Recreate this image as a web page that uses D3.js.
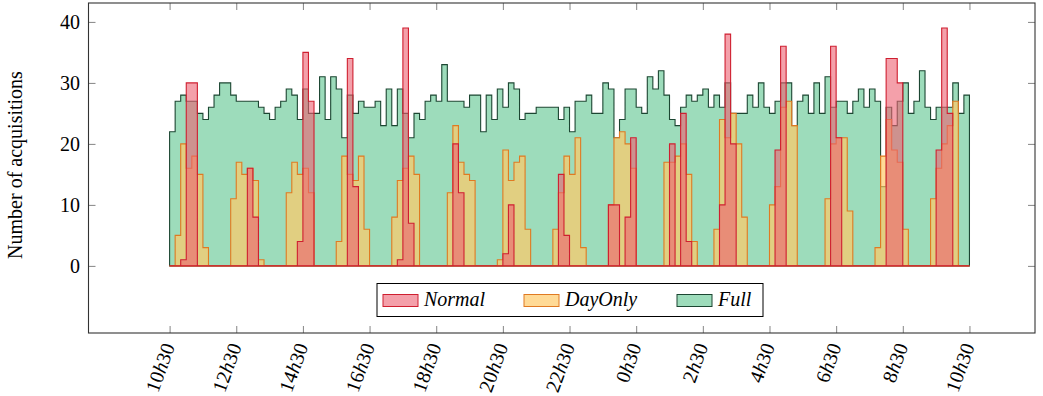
<!DOCTYPE html>
<html>
<head>
<meta charset="utf-8">
<script src="https://cdn.jsdelivr.net/npm/d3@7"></script>
<style>
  html, body { margin: 0; padding: 0; background: #fff; }
  svg { display: block; }
  text { font-family: "Liberation Serif", "Times New Roman", serif; fill: #000; }
</style>
</head>
<body>
<svg id="chart" width="1043" height="396"></svg>
<script>
// Acquisitions per 10-minute slot, starting at 10h30 and covering 24 hours
const binMinutes = 10;

const normalCounts = [
  0, 0, 1, 30, 30, 0, 0, 0, 0, 0,
  0, 0, 0, 0, 16, 8, 0, 0, 0, 0,
  0, 0, 0, 4, 35, 27, 0, 0, 0, 0,
  0, 0, 34, 13, 0, 0, 0, 0, 0, 0,
  0, 1, 39, 7, 0, 0, 0, 0, 0, 0,
  0, 20, 12, 0, 0, 0, 0, 0, 0, 0,
  2, 10, 0, 0, 0, 0, 0, 0, 0, 0,
  15, 5, 0, 0, 0, 0, 0, 0, 0, 10,
  10, 0, 8, 21, 0, 0, 0, 0, 0, 0,
  20, 0, 25, 4, 0, 0, 0, 0, 0, 10,
  38, 20, 0, 0, 0, 0, 0, 0, 0, 19,
  36, 0, 0, 0, 0, 0, 0, 0, 0, 36,
  21, 0, 0, 0, 0, 0, 0, 0, 0, 34,
  34, 30, 0, 0, 0, 0, 0, 0, 19, 39,
  25, 0, 0, 0
];

const dayOnlyCounts = [
  0, 5, 20, 16, 18, 15, 3, 0, 0, 0,
  0, 11, 17, 15, 16, 14, 1, 0, 0, 0,
  0, 12, 17, 15, 16, 12, 0, 0, 0, 0,
  4, 18, 15, 14, 18, 6, 0, 0, 0, 0,
  8, 14, 16, 18, 15, 0, 0, 0, 0, 0,
  12, 23, 17, 15, 14, 0, 0, 0, 0, 1,
  19, 14, 17, 18, 6, 0, 0, 0, 0, 6,
  12, 18, 15, 21, 3, 0, 0, 0, 0, 10,
  21, 22, 20, 16, 0, 0, 0, 0, 0, 17,
  17, 18, 20, 15, 4, 0, 0, 0, 6, 24,
  21, 25, 20, 8, 0, 0, 0, 0, 10, 13,
  26, 27, 23, 0, 0, 0, 0, 0, 11, 20,
  21, 21, 9, 0, 0, 0, 0, 3, 18, 24,
  19, 17, 6, 0, 0, 0, 0, 11, 16, 20,
  23, 27, 0, 0
];

const fullCounts = [
  22, 27, 28, 27, 27, 25, 24, 26, 28, 30,
  30, 28, 27, 27, 27, 27, 26, 25, 24, 26,
  27, 29, 28, 24, 29, 25, 25, 31, 24, 31,
  29, 21, 28, 25, 27, 26, 26, 27, 23, 29,
  23, 29, 25, 21, 25, 24, 27, 28, 27, 33,
  27, 27, 27, 26, 28, 28, 22, 28, 24, 29,
  26, 30, 29, 24, 25, 25, 26, 26, 26, 26,
  24, 26, 22, 27, 27, 28, 25, 25, 30, 29,
  21, 24, 29, 29, 26, 25, 31, 29, 32, 28,
  24, 23, 26, 28, 27, 28, 29, 26, 28, 26,
  30, 25, 25, 25, 28, 26, 30, 26, 25, 27,
  30, 30, 23, 27, 28, 25, 30, 25, 31, 26,
  27, 27, 25, 27, 29, 26, 29, 27, 13, 26,
  23, 27, 30, 25, 27, 32, 26, 24, 26, 26,
  26, 30, 25, 28
];

const seriesNames = ["Normal", "DayOnly", "Full"];

// Tick positions in minutes after 10h30, and their labels
const xTickMinutes = [0, 120, 240, 360, 480, 600, 720, 840, 960, 1080, 1200, 1320, 1440];
const xTickLabels = ["10h30", "12h30", "14h30", "16h30", "18h30", "20h30", "22h30",
                     "0h30", "2h30", "4h30", "6h30", "8h30", "10h30"];
const yTickValues = [0, 10, 20, 30, 40];

const styles = {
  Normal:  { fill: "#ed6171", fillOpacity: 0.6,  stroke: "#cf1f30" },
  DayOnly: { fill: "#ffc967", fillOpacity: 0.69, stroke: "#e07a22" },
  Full:    { fill: "#9ddcbb", fillOpacity: 1,    stroke: "#1c4632" }
};

const svg = d3.select("#chart");
const plot = { left: 88.5, right: 1035, top: 3, bottom: 333 };

const x = d3.scaleLinear().domain([-146, 1558]).range([plot.left, plot.right]);
const y = d3.scaleLinear().domain([-11, 43.1]).range([plot.bottom, plot.top]);

function stepPoints(counts) {
  const pts = counts.map((v, i) => ({ t: i * binMinutes, v }));
  pts.push({ t: counts.length * binMinutes, v: counts[counts.length - 1] });
  return pts;
}

const area = d3.area()
  .x(d => x(d.t))
  .y0(y(0))
  .y1(d => y(d.v))
  .curve(d3.curveStepAfter);

const layers = [
  ["Full", fullCounts],
  ["DayOnly", dayOnlyCounts],
  ["Normal", normalCounts]
];

const g = svg.append("g");
layers.forEach(([name, counts]) => {
  const s = styles[name];
  g.append("path")
    .datum(stepPoints(counts))
    .attr("d", area)
    .attr("fill", s.fill)
    .attr("fill-opacity", s.fillOpacity)
    .attr("stroke", s.stroke)
    .attr("stroke-width", 1.1)
    .attr("stroke-linejoin", "miter");
});

// Axis frame with inward ticks on all four sides
const tickLen = 7;
const axes = svg.append("g");
const xBottom = d3.axisBottom(x).tickValues(xTickMinutes).tickSize(-tickLen).tickFormat("");
const xTop = d3.axisTop(x).tickValues(xTickMinutes).tickSize(-tickLen).tickFormat("");
const yLeft = d3.axisLeft(y).tickValues(yTickValues).tickSize(-tickLen).tickFormat("");
const yRight = d3.axisRight(y).tickValues(yTickValues).tickSize(-tickLen).tickFormat("");

axes.append("g").attr("transform", `translate(0,${plot.bottom})`).call(xBottom);
axes.append("g").attr("transform", `translate(0,${plot.top})`).call(xTop);
axes.append("g").attr("transform", `translate(${plot.left},0)`).call(yLeft);
axes.append("g").attr("transform", `translate(${plot.right},0)`).call(yRight);
axes.selectAll(".domain").remove();
axes.selectAll(".tick line").attr("stroke", "#666").attr("stroke-width", 0.8);

svg.append("rect")
  .attr("x", plot.left).attr("y", plot.top)
  .attr("width", plot.right - plot.left).attr("height", plot.bottom - plot.top)
  .attr("fill", "none").attr("stroke", "#333").attr("stroke-width", 1.1);

// Y tick labels
svg.append("g").selectAll("text")
  .data(yTickValues)
  .join("text")
  .attr("x", 80)
  .attr("y", d => y(d))
  .attr("dy", "0.35em")
  .attr("text-anchor", "end")
  .attr("font-size", 20)
  .text(d => d);

// X tick labels, rotated, with the hour marker in italics
const xl = svg.append("g").selectAll("text")
  .data(xTickMinutes)
  .join("text")
  .attr("text-anchor", "end")
  .attr("font-size", 20)
  .attr("dy", "0.35em")
  .attr("transform", d => `translate(${x(d) - 1},${plot.bottom + 11}) rotate(-70)`);
xl.each(function(d, i) {
  const parts = xTickLabels[i].split("h");
  const t = d3.select(this);
  t.append("tspan").text(parts[0]);
  t.append("tspan").attr("font-style", "italic").text("h");
  t.append("tspan").text(parts[1]);
});

// Y axis title
svg.append("text")
  .attr("transform", `translate(22,165) rotate(-90)`)
  .attr("text-anchor", "middle")
  .attr("font-size", 20)
  .text("Number of acquisitions");

// Legend
const legend = svg.append("g");
legend.append("rect")
  .attr("x", 377).attr("y", 283.5).attr("width", 386).attr("height", 33)
  .attr("fill", "#fff").attr("stroke", "#000").attr("stroke-width", 1);
const legendX = [383, 524, 677];
seriesNames.forEach((name, i) => {
  const s = styles[name];
  legend.append("rect")
    .attr("x", legendX[i]).attr("y", 294.5).attr("width", 35).attr("height", 12)
    .attr("fill", s.fill).attr("fill-opacity", s.fillOpacity)
    .attr("stroke", s.stroke).attr("stroke-width", 1);
  legend.append("text")
    .attr("x", legendX[i] + 41).attr("y", 306)
    .attr("font-size", 20).attr("font-style", "italic")
    .text(name);
});
</script>
</body>
</html>
